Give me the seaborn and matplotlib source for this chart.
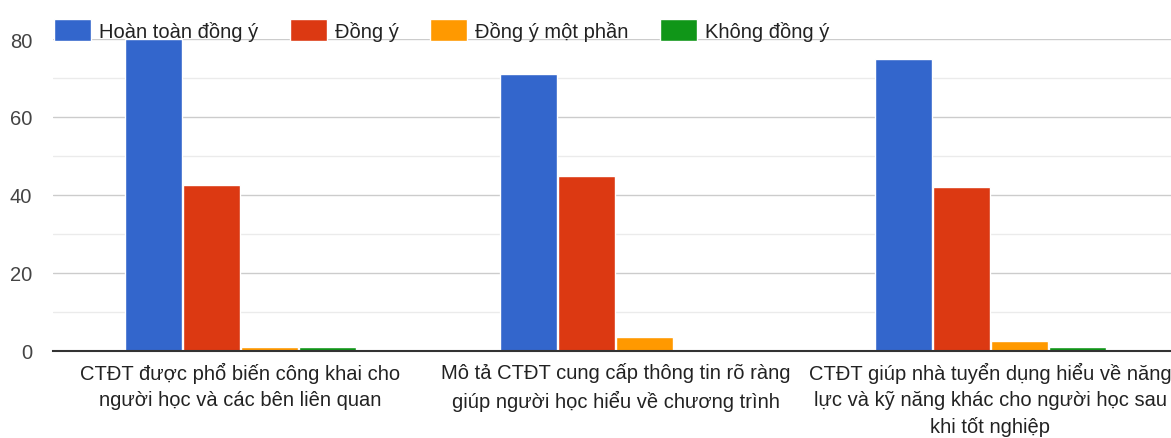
import pandas as pd
import numpy as np
import matplotlib
matplotlib.use('Agg')
import matplotlib.pyplot as plt
import seaborn as sns
from matplotlib.ticker import MultipleLocator

sns.set_style('white')
plt.rcParams['font.family'] = ['Liberation Sans', 'DejaVu Sans']

categories = ['CTĐT được phổ biến công khai cho\nngười học và các bên liên quan',
              'Mô tả CTĐT cung cấp thông tin rõ ràng\ngiúp người học hiểu về chương trình',
              'CTĐT giúp nhà tuyển dụng hiểu về năng\nlực và kỹ năng khác cho người học sau\nkhi tốt nghiệp']
series = ['Hoàn toàn đồng ý', 'Đồng ý', 'Đồng ý một phần', 'Không đồng ý']
hoan_toan = [80, 71, 75]
dong_y = [42.5, 45, 42]
mot_phan = [1, 3.5, 2.5]
khong = [1, 0, 1]
colors = ['#3366cc', '#dc3912', '#ff9900', '#109618']

rows = []
for name, vals in zip(series, [hoan_toan, dong_y, mot_phan, khong]):
    for c, v in zip(categories, vals):
        rows.append({'cat': c, 'series': name, 'value': v})
df = pd.DataFrame(rows)

fig = plt.figure(figsize=(11.71, 4.39), dpi=100)
ax = fig.add_axes([53/1171, 1-352/439, 1125/1171, 312/439])
ax.set_axisbelow(True)
sns.barplot(data=df, x='cat', y='value', hue='series', palette=colors,
            width=0.62, gap=0.02, saturation=1, ax=ax, legend=True)

ax.set_ylim(0, 80)
ax.set_xlim(-0.5, 2.5)
ax.yaxis.set_major_locator(MultipleLocator(20))
ax.yaxis.set_minor_locator(MultipleLocator(10))
ax.grid(axis='y', which='major', color='#cccccc', lw=1)
ax.grid(axis='y', which='minor', color='#ebebeb', lw=1)
for s in ['top', 'right', 'left']:
    ax.spines[s].set_visible(False)
ax.spines['bottom'].set_color('#333333')
ax.spines['bottom'].set_linewidth(1.5)
ax.tick_params(axis='x', length=0, labelsize=14.5, colors='#222222', pad=8)
ax.tick_params(axis='y', which='both', length=0, labelsize=14.5, colors='#444444', pad=15)
for t in ax.get_xticklabels():
    t.set_linespacing(1.45)
ax.set_xlabel('')
ax.set_ylabel('')

handles, labels = ax.get_legend_handles_labels()
ax.legend_.remove()
fig.legend(handles, labels, loc='upper left', bbox_to_anchor=(36/1171, 0.995),
           ncol=4, frameon=False, fontsize=14.5, handlelength=1.85, handleheight=1.3,
           columnspacing=1.55, handletextpad=0.4, labelcolor='#222222')

fig.savefig('out.png', dpi=100)
